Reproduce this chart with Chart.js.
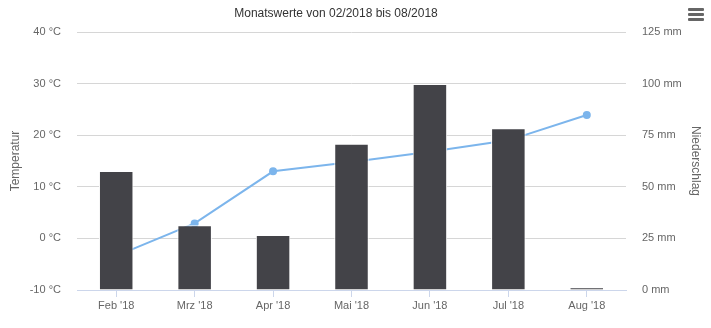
<!DOCTYPE html>
<html>
<head>
<meta charset="utf-8">
<script src="https://cdn.jsdelivr.net/npm/chart.js@4/dist/chart.umd.min.js"></script>
<style>
  html, body { margin: 0; padding: 0; background: #fff; }
  #wrap { position: relative; width: 711px; height: 328px; }
  #menu { position: absolute; left: 688px; top: 8px; width: 16px; }
  #menu span { display: block; height: 3px; background: #666; margin-bottom: 2px; border-radius: 1px; }
</style>
</head>
<body>
<div id="wrap">
  <canvas id="myChart"></canvas>
  <div id="menu"><span></span><span></span><span></span></div>
</div>
<script>
const months = ["Feb '18", "Mrz '18", "Apr '18", "Mai '18", "Jun '18", "Jul '18", "Aug '18"];
const niederschlag = [57.6, 31.4, 26.6, 70.8, 99.8, 78.4, 1.3];
const temperatur = [-3.4, 2.9, 13.0, 14.8, 16.8, 19.0, 23.9];

const tempTicks = { min: -10, max: 40, step: 10 };
const rainTicks = { min: 0, max: 125, step: 25 };

const chartTitle = "Monatswerte von 02/2018 bis 08/2018";
const textColor = "#666666";
const font = { family: "'Liberation Sans', Arial, sans-serif", size: 11 };

Chart.defaults.font.family = font.family;

// title drawn by hand, Highcharts centres it a bit left of the canvas middle
const titlePlugin = {
  id: "ownTitle",
  afterDraw(chart) {
    const c = chart.ctx;
    c.save();
    c.font = "12px " + font.family;
    c.fillStyle = "#333333";
    c.textAlign = "center";
    c.textBaseline = "middle";
    c.fillText(chartTitle, 336, 14);
    c.restore();
  },
};

const ctx = document.getElementById("myChart");

new Chart(ctx, {
  type: "bar",
  data: {
    labels: months,
    datasets: [
      {
        type: "bar",
        label: "Niederschlag",
        data: niederschlag,
        yAxisID: "yRain",
        backgroundColor: "#434348",
        borderColor: "#ffffff",
        borderWidth: 1,
        barPercentage: 0.44,
        categoryPercentage: 1,
        order: 1,
      },
      {
        type: "line",
        label: "Temperatur",
        data: temperatur,
        yAxisID: "yTemp",
        borderColor: "#7cb5ec",
        backgroundColor: "#7cb5ec",
        borderWidth: 2,
        pointRadius: 4,
        pointBorderWidth: 0,
        tension: 0,
        order: 2,
      },
    ],
  },
  plugins: [titlePlugin],
  options: {
    responsive: true,
    maintainAspectRatio: false,
    animation: false,
    layout: { padding: { top: 32, left: 0, right: 0, bottom: 0 } },
    plugins: {
      legend: { display: false },
      tooltip: { enabled: false },
      title: { display: false },
    },
    scales: {
      x: {
        offset: true,
        afterFit: (scale) => { scale.height = 38; },
        grid: {
          display: true,
          offset: false,
          drawOnChartArea: false,
          drawTicks: true,
          tickLength: 7,
          color: "#ccd6eb",
        },
        border: { display: true, color: "#ccd6eb", width: 1 },
        ticks: { color: textColor, font: font, padding: 2, maxRotation: 0 },
      },
      yTemp: {
        type: "linear",
        position: "left",
        min: tempTicks.min,
        max: tempTicks.max,
        afterFit: (scale) => { scale.width = 77; },
        grid: { color: "#d6d6d6", drawTicks: false },
        border: { display: false },
        ticks: {
          stepSize: tempTicks.step,
          color: textColor,
          font: font,
          padding: 16,
          callback: (v) => v + " °C",
        },
        title: {
          display: true,
          text: "Temperatur",
          color: textColor,
          font: { size: 12 },
          padding: { top: 8, bottom: 0 },
        },
      },
      yRain: {
        type: "linear",
        position: "right",
        min: rainTicks.min,
        max: rainTicks.max,
        afterFit: (scale) => { scale.width = 85; },
        grid: { drawOnChartArea: false, drawTicks: false },
        border: { display: false },
        ticks: {
          stepSize: rainTicks.step,
          color: textColor,
          font: font,
          padding: 16,
          callback: (v) => v + " mm",
        },
        title: {
          display: true,
          text: "Niederschlag",
          color: textColor,
          font: { size: 12 },
          padding: { top: 8, bottom: 0 },
        },
      },
    },
  },
});
</script>
</body>
</html>
